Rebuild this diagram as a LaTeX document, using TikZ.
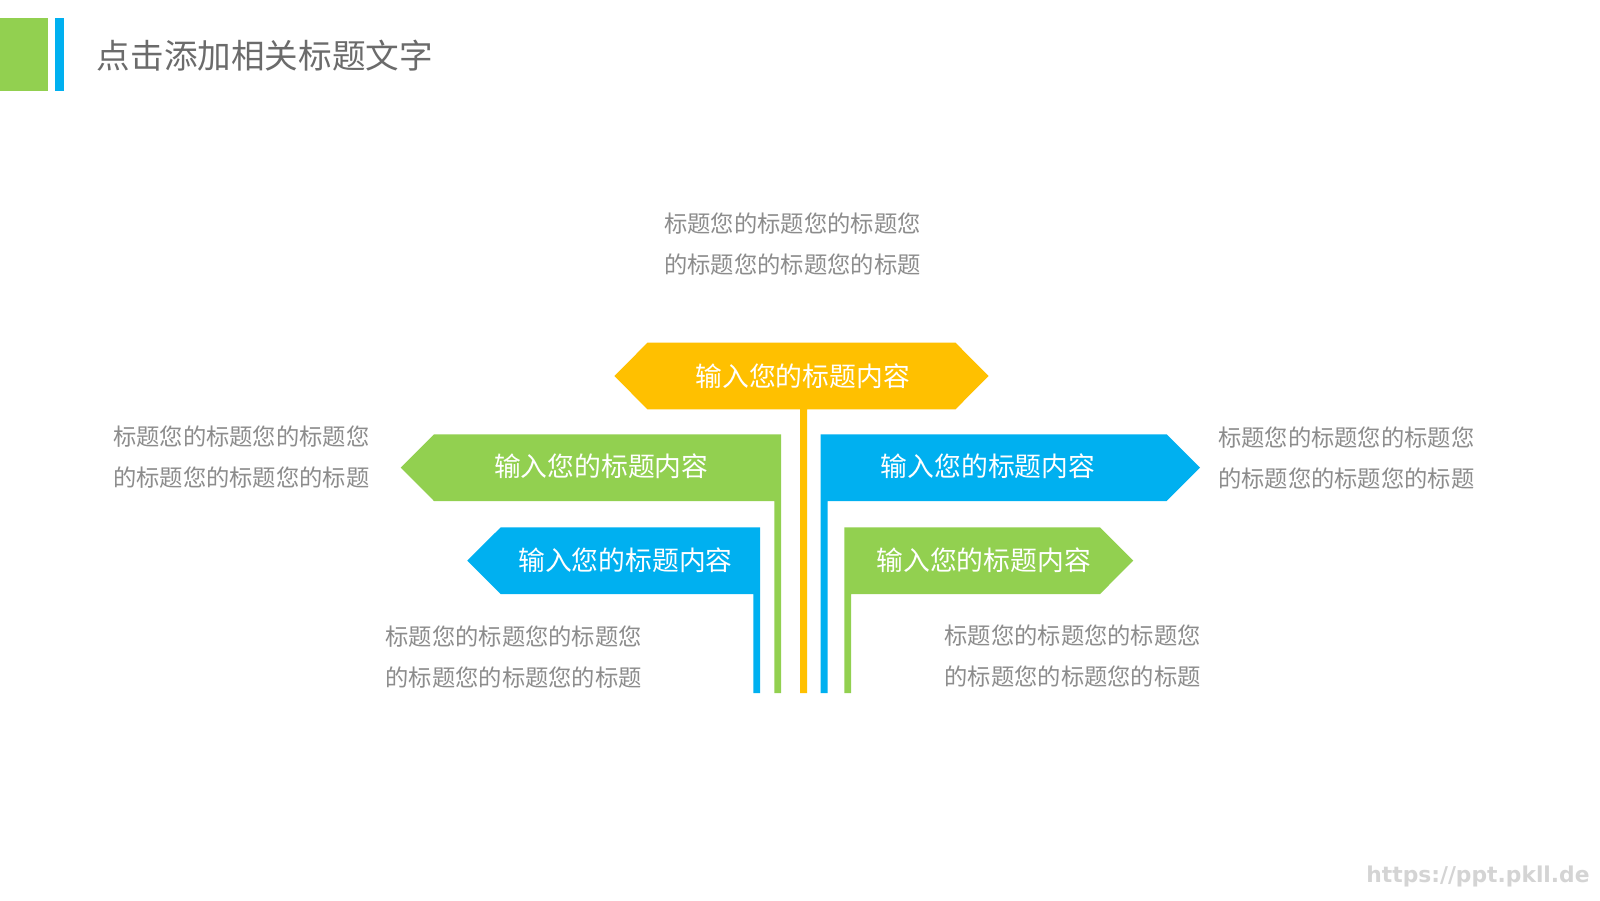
\documentclass[tikz,border=0pt]{standalone}
\usepackage{fontspec}
\setmainfont{Noto Sans CJK SC}
\newfontfamily\wmfont{DejaVu Sans}
\definecolor{cyel}{HTML}{FFC000}
\definecolor{cgrn}{HTML}{92D050}
\definecolor{cblu}{HTML}{00B0F0}
\definecolor{ctxt}{HTML}{8C8C8C}
\definecolor{ctitle}{HTML}{6B6B6B}
\definecolor{cwm}{HTML}{D4D4D4}
\begin{document}
\begin{tikzpicture}[x=0.5pt,y=-0.5pt,
  lbl/.style={font=\fontsize{13.4}{16}\selectfont, text=white, inner sep=0pt},
  desc/.style={font=\fontsize{11.65}{20.5}\selectfont, text=ctxt, align=left, inner sep=0pt},
]
\useasboundingbox[fill=white] (0,0) rectangle (1600,900);
% header
\fill[cgrn] (0,17.7) rectangle (47.7,90.7);
\fill[cblu] (55,17.7) rectangle (64,90.7);
\node[anchor=west, inner sep=0pt, text=ctitle, font=\fontsize{16.8}{20}\selectfont] (title) at (96.5,56) {点击添加相关标题文字};
% yellow hexagon + stem
\fill[cyel] (614.3,376) -- (647.5,342.7) -- (955.5,342.7) -- (988.5,376) -- (955.5,409.3) -- (807,409.3) -- (807,693) -- (800,693) -- (800,409.3) -- (647.5,409.3) -- cycle;
% green upper-left
\fill[cgrn] (400.7,467.6) -- (434,434.3) -- (781,434.3) -- (781,693) -- (774.3,693) -- (774.3,501) -- (434,501) -- cycle;
% blue lower-left
\fill[cblu] (467.3,560.6) -- (500.7,527.3) -- (760,527.3) -- (760,693) -- (753.3,693) -- (753.3,594) -- (500.7,594) -- cycle;
% blue upper-right
\fill[cblu] (820.7,434.3) -- (1166.7,434.3) -- (1200,467.6) -- (1166.7,501) -- (827.7,501) -- (827.7,693) -- (820.7,693) -- cycle;
% green lower-right
\fill[cgrn] (844.3,527.3) -- (1100,527.3) -- (1133.3,560.6) -- (1100,594) -- (851,594) -- (851,693) -- (844.3,693) -- cycle;
% labels
\node[lbl] (ltop) at (802.7,376.7) {输入您的标题内容};
\node[lbl] (lgl) at (601.2,466.7) {输入您的标题内容};
\node[lbl] (lbl2) at (625.5,560) {输入您的标题内容};
\node[lbl] (lbr) at (988,466.7) {输入您的标题内容};
\node[lbl] (lgr) at (983.7,560) {输入您的标题内容};
% descriptions
\node[desc] (dtop) at (792.5,244) {标题您的标题您的标题您\\的标题您的标题您的标题};
\node[desc] (dleft) at (241.3,457.5) {标题您的标题您的标题您\\的标题您的标题您的标题};
\node[desc] (dright) at (1346.3,458.3) {标题您的标题您的标题您\\的标题您的标题您的标题};
\node[desc] (dbl) at (513.7,657.2) {标题您的标题您的标题您\\的标题您的标题您的标题};
\node[desc] (dbr) at (1072.7,656.3) {标题您的标题您的标题您\\的标题您的标题您的标题};
% watermark
\node[anchor=east, inner sep=0pt, text=cwm, font=\wmfont\bfseries\fontsize{10.9}{13}\selectfont] (wm) at (1590,876) {https://ppt.pkll.de};
\end{tikzpicture}
\end{document}
